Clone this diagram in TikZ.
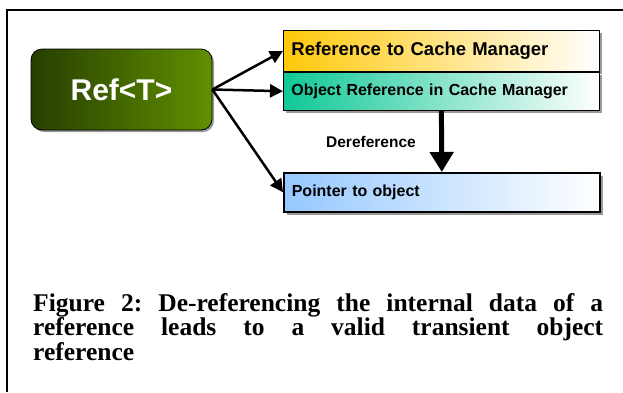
\documentclass[tikz,border=0pt]{standalone}
\usepackage{fontspec}
\setmainfont{Liberation Serif}
\newfontfamily\boxfont{Liberation Sans}
\usetikzlibrary{positioning}
\usetikzlibrary{arrows.meta}
\usetikzlibrary{shadows}

\definecolor{darkolive}{RGB}{40,62,0}
\definecolor{leafgreen}{RGB}{96,144,0}
\definecolor{cacheorange}{RGB}{255,200,10}
\definecolor{objgreen}{RGB}{16,200,150}
\definecolor{ptrblue}{RGB}{150,200,255}

\begin{document}
\frenchspacing
\begin{tikzpicture}[x=1pt, y=-1pt,
	handle/.style={rounded corners=11pt, draw=black, line width=0.8pt, left color=darkolive, right color=leafgreen, minimum width=181pt, minimum height=81pt, text=white, font=\boxfont\bfseries\fontsize{30}{31}\selectfont, drop shadow={shadow xshift=2pt, shadow yshift=-2pt, fill=gray, opacity=0.8}},
	entry/.style={draw=black, line width=0.8pt, right color=white, inner xsep=8pt, text width=300pt, align=left, drop shadow={shadow xshift=3pt, shadow yshift=-3pt, fill=gray!80, opacity=1}},
	link/.style={-{Triangle[length=13pt, width=13pt]}, line width=2.5pt}]
	\useasboundingbox (0,0) rectangle (623,392);
	\draw[line width=2.2pt] (623,10) -- (7,10) -- (7,392);

	\node [handle] (ref) at (121.5,89.5) {Ref<T>};

	\node [entry, left color=cacheorange, minimum height=41pt, font=\boxfont\bfseries\fontsize{18.5}{19}\selectfont, anchor=north west] (cache) at (283,30) {Reference to Cache Manager};
	\node [entry, left color=objgreen, minimum height=38pt, font=\boxfont\bfseries\fontsize{16}{17}\selectfont, below=0pt of cache.south west, anchor=north west] (objref) {Object Reference in Cache Manager};
	\node [entry, left color=ptrblue, minimum height=39pt, line width=1.6pt, font=\boxfont\bfseries\fontsize{16}{17}\selectfont, anchor=north west] (ptr) at (283,172) {Pointer to object};

	\draw[link] (ref.east) -- (cache.west);
	\draw[link] (ref.east) -- (objref.west);
	\draw[link] (ref.east) -- (ptr.west);

	\draw[-{Triangle[length=20pt, width=23pt]}, line width=5pt] (objref.south) -- (ptr.north) node [midway, left=20pt, yshift=-1pt, font=\boxfont\bfseries\fontsize{15.5}{16}\selectfont] (deref) {Dereference};

	\node [anchor=north west, inner sep=0pt, text width=570pt, align=justify, font=\bfseries\fontsize{25.5}{21.2}\selectfont] (caption) at (33,293) {Figure 2: De-referencing the internal data of a\linebreak reference leads to a valid transient object\linebreak reference};
\end{tikzpicture}
\end{document}
